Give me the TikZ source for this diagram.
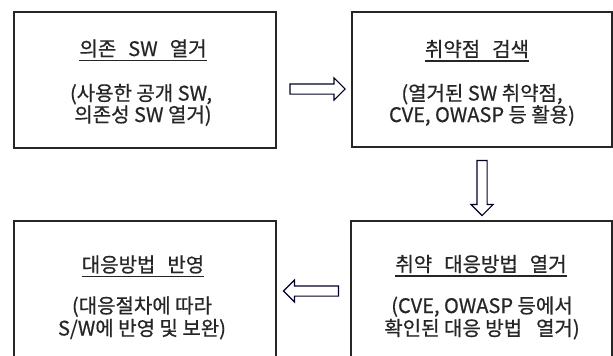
\documentclass[tikz,border=0pt]{standalone}
\usepackage{fontspec}
\setmainfont[FakeBold=0.6]{Noto Sans CJK KR}
\usetikzlibrary{shapes.arrows}
\newcommand{\tsp}{\hspace{0.6em}}
\tikzset{
  box/.style={draw=black!85, line width=1.3pt, inner sep=0pt},
  txt/.style={font=\fontsize{20}{22}\selectfont, text=black!85, inner sep=0pt, anchor=base},
  uline/.style={draw=black!85, line width=1.2pt},
  blockarrow/.style={single arrow, draw=black!75!blue!60!black, line width=1.1pt, fill=white,
    minimum height=55pt, minimum width=21pt, inner sep=4.5pt, single arrow head extend=6pt}
}
\begin{document}
\begin{tikzpicture}[x=1pt,y=-1pt]
\useasboundingbox (0,0) rectangle (613,356);
\clip (0,0) rectangle (613,356);
\fill[white] (0,0) rectangle (613,356);
% boxes
\node[box, minimum width=262pt, minimum height=136pt] (b1) at (145,80) {};
\node[box, minimum width=260pt, minimum height=135pt] (b2) at (482,79.5) {};
\node[box, minimum width=262pt, minimum height=150pt] (b3) at (145,296) {};
\node[box, minimum width=261pt, minimum height=150pt] (b4) at (481.5,296) {};
% titles
\node[txt] (t1) at (143,56) {의존\tsp SW\tsp 열거};
\node[txt] (t2) at (477,56.5) {취약점\tsp 검색};
\node[txt] (t3) at (143,272) {대응방법\tsp 반영};
\node[txt] (t4) at (481,271.5) {취약\tsp 대응방법\tsp 열거};
% body lines
\node[txt] (d1a) at (141,100.5) {(사용한 공개 SW,};
\node[txt] (d1b) at (143,122) {의존성 SW 열거)};
\node[txt] (d2a) at (482,100.5) {(열거된 SW 취약점,};
\node[txt] (d2b) at (482,122) {CVE, OWASP 등 활용)};
\node[txt] (d3a) at (142,313) {(대응절차에 따라};
\node[txt] (d3b) at (142,335.5) {S/W에 반영 및 보완)};
\node[txt] (d4a) at (482,313) {(CVE, OWASP 등에서};
\node[txt] (d4b) at (482,335.5) {확인된 대응 방법\hspace{0.7em}열거)};
% underlines
\foreach \t in {t1,t2,t3,t4}
  \draw[uline] ([yshift=-4.5pt]\t.base west) -- ([yshift=-4.5pt]\t.base east);
% arrows
\node[blockarrow] (a1) at (315,89) {};
\node[blockarrow, shape border rotate=270] (a2) at (482,185.5) {};
\node[blockarrow, shape border rotate=180] (a3) at (313.5,291) {};
\end{tikzpicture}
\end{document}
